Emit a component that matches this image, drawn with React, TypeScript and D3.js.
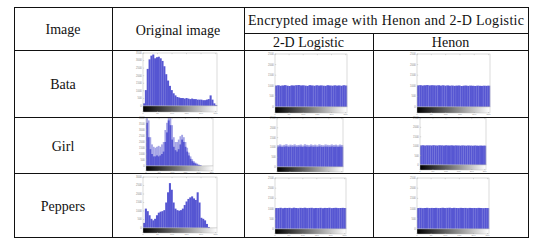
import React from "react";
import * as d3 from "d3";

const W = 545;
const H = 243;

// Table text
const headerTop = "Encrypted image with Henon and 2-D Logistic";
const colHeaders = ["Image", "Original image"];
const subHeaders = ["2-D Logistic", "Henon"];
const rowNames = ["Bata", "Girl", "Peppers"];

// Original histograms (counts per bin, 40 bins over 0..255)
const bataOrig = [175,1050,2450,3080,3325,3400,3150,3220,3255,3150,2975,2625,2100,1680,1330,1050,840,700,595,560,525,525,490,525,490,455,490,455,455,420,420,420,385,385,420,455,700,420,175,70];
const girlOrig = [3600,2400,1400,1000,800,800,880,800,880,1000,1200,2000,2800,3800,3400,2200,1600,1320,1200,1400,1800,2200,2000,1600,1200,880,600,400,280,200,120,80,40,0,0,0,0,0,0,0];
const girlOrigUpper = [4000,3800,2400,1800,1600,1520,1600,1680,1600,1800,2000,3000,3600,4000,4000,3400,2400,2000,2000,2200,2480,2600,2400,2000,1520,1120,800,560,400,280,200,120,80,0,0,0,0,0,0,0];
const peppersOrig = [300,1140,990,750,540,450,540,750,900,960,990,1050,1500,2100,2640,2250,1500,1140,1050,1020,1050,1140,1350,1560,1710,1800,1860,1740,1650,2100,1500,600,540,450,240,60,0,0,0,0];

// Encrypted histograms (32 bins)
const bataLog = [1010,1025,1000,1015,1030,1005,990,1020,1012,1028,1035,1018,1022,1008,995,1030,1016,1002,1024,1011,1019,1006,998,1027,1013,1004,1021,1009,1017,1001,1026,1014];
const bataHen = [1020,1030,1012,1025,1034,1018,1028,1022,1015,1026,1010,1024,1005,1019,1003,1012,998,1008,1015,990,1004,1011,996,1009,1002,993,1007,1000,995,1004,998,1006];
const girlLog = [1030,1045,1020,1038,1050,1025,1040,1032,1046,1028,1036,1042,1022,1048,1034,1026,1044,1030,1038,1024,1046,1033,1027,1041,1035,1029,1043,1031,1037,1025,1040,1033];
const girlLogUpper = [1110,1150,1100,1130,1160,1105,1140,1120,1155,1110,1125,1145,1100,1160,1130,1110,1150,1115,1140,1105,1155,1125,1110,1150,1130,1115,1150,1120,1140,1105,1145,1125];
const girlHen = [1040,1050,1035,1046,1044,1038,1052,1041,1036,1049,1043,1034,1047,1040,1038,1045,1033,1042,1037,1030,1041,1035,1028,1039,1032,1026,1036,1030,1024,1033,1027,1030];
const peppersLog = [1030,1025,1040,1018,1035,1028,1038,1022,1044,1030,1020,1036,1027,1042,1024,1033,1039,1021,1031,1026,1037,1019,1034,1029,1041,1023,1032,1038,1025,1030,1036,1028];
const peppersHen = [1028,1034,1022,1030,1038,1025,1033,1029,1036,1024,1031,1040,1027,1035,1042,1026,1038,1030,1024,1036,1029,1033,1021,1034,1027,1031,1025,1035,1028,1022,1030,1026];

const origTicks = [
  [0, 500, 1000, 1500, 2000, 2500, 3000, 3500],
  [0, 500, 1000, 1500, 2000, 2500, 3000, 3500, 4000],
  [0, 500, 1000, 1500, 2000, 2500, 3000],
];
const encTicks = [0, 500, 1000, 1500, 2000, 2500];
const xTickLabels = [0, 50, 100, 150, 200, 250];

// Layout
const colX = [14, 112, 244, 373, 528];
const rowY = [7, 50, 117, 173, 237];
const subY = 33;

type Panel = {
  x: number; y: number; w: number; h: number; cb: number;
  values: number[]; upper?: number[]; ticks: number[]; enc: boolean;
};

const panels: Panel[] = [
  { x: 143, y: 53, w: 74, h: 53, cb: 6, values: bataOrig, ticks: origTicks[0], enc: false },
  { x: 275, y: 54, w: 72, h: 53, cb: 6, values: bataLog, ticks: encTicks, enc: true },
  { x: 417, y: 54, w: 73, h: 53, cb: 6, values: bataHen, ticks: encTicks, enc: true },
  { x: 146, y: 118, w: 67, h: 48, cb: 5, values: girlOrig, upper: girlOrigUpper, ticks: origTicks[1], enc: false },
  { x: 277, y: 118, w: 66, h: 49, cb: 5, values: girlLog, upper: girlLogUpper, ticks: encTicks, enc: true },
  { x: 420, y: 118, w: 66, h: 47, cb: 5, values: girlHen, ticks: encTicks, enc: true },
  { x: 143, y: 177, w: 74, h: 51, cb: 5, values: peppersOrig, ticks: origTicks[2], enc: false },
  { x: 275, y: 178, w: 71, h: 51, cb: 5, values: peppersLog, ticks: encTicks, enc: true },
  { x: 417, y: 178, w: 72, h: 51, cb: 5, values: peppersHen, ticks: encTicks, enc: true },
];

const BLUE = "#5656d2";
const STRIPE = "#7c7cde";
const LIGHT = "#a4a4e6";

function Histogram({ p, idx }: { p: Panel; idx: number }) {
  const n = p.values.length;
  const yMax = p.ticks[p.ticks.length - 1];
  const xs = d3.scaleBand<number>().domain(d3.range(n)).range([p.x, p.x + p.w]);
  const ys = d3.scaleLinear().domain([0, yMax]).range([p.y + p.h, p.y]);
  const xv = d3.scaleLinear().domain([0, 255]).range([p.x, p.x + p.w]);
  const gid = `cb${idx}`;
  const bw = xs.bandwidth() + 0.2;
  return (
    <g>
      <defs>
        <linearGradient id={gid} x1="0" x2="1" y1="0" y2="0">
          <stop offset="0" stopColor="#000" />
          <stop offset="0.45" stopColor="#6e6e6e" />
          <stop offset="1" stopColor="#fff" />
        </linearGradient>
      </defs>
      <rect x={p.x} y={p.y} width={p.w} height={p.h} fill="#fff" />
      {p.upper &&
        p.upper.map((v, i) => (
          <rect key={"u" + i} x={xs(i)!} y={ys(v)} width={bw} height={ys(0) - ys(v)} fill={LIGHT} />
        ))}
      {p.values.map((v, i) => (
        <rect key={i} x={xs(i)!} y={ys(v)} width={bw} height={ys(0) - ys(v)} fill={BLUE} />
      ))}
      {p.enc &&
        p.values.map((v, i) =>
          i % 2 === 1 ? (
            <line key={"s" + i} x1={xs(i)!} x2={xs(i)!} y1={ys(v)} y2={ys(0)} stroke={STRIPE} strokeWidth={0.5} />
          ) : null
        )}
      <rect x={p.x} y={p.y} width={p.w} height={p.h} fill="none" stroke="#c4c4c4" strokeWidth={0.6} />
      {p.ticks.map((t) => (
        <g key={t}>
          <line x1={p.x} x2={p.x + 1.2} y1={ys(t)} y2={ys(t)} stroke="#aaa" strokeWidth={0.4} />
          <text x={p.x - 1.2} y={ys(t)} dy="0.35em" fontSize={2.6} fill="#888" textAnchor="end" fontFamily="Liberation Sans">
            {t}
          </text>
        </g>
      ))}
      {xTickLabels.map((t) => (
        <line key={"t" + t} x1={xv(t)} x2={xv(t)} y1={p.y} y2={p.y + 1.2} stroke="#aaa" strokeWidth={0.4} />
      ))}
      <rect x={p.x} y={p.y + p.h} width={p.w} height={p.cb} fill={`url(#${gid})`} />
      <rect x={p.x} y={p.y + p.h} width={p.w} height={p.cb} fill="none" stroke="#bbb" strokeWidth={0.4} />
      {xTickLabels.map((t) => (
        <g key={"x" + t}>
          <line x1={xv(t)} x2={xv(t)} y1={p.y + p.h + p.cb} y2={p.y + p.h + p.cb - 1} stroke="#999" strokeWidth={0.4} />
          <text x={xv(t)} y={p.y + p.h + p.cb + 2.4} fontSize={2.4} fill="#999" textAnchor="middle" fontFamily="Liberation Sans">
            {t}
          </text>
        </g>
      ))}
    </g>
  );
}

export default function App() {
  const font = "'Liberation Serif', 'Times New Roman', serif";
  const fs = 14;
  return (
    <svg width={W} height={H} style={{ position: "absolute", left: 0, top: 0, background: "#fff" }}>
      <rect x={0} y={0} width={W} height={H} fill="#fff" />
      {panels.map((p, i) => (
        <Histogram key={i} p={p} idx={i} />
      ))}
      {/* table lines */}
      <g stroke="#111" strokeWidth={1} shapeRendering="crispEdges">
        <rect x={colX[0]} y={rowY[0]} width={colX[4] - colX[0]} height={rowY[4] - rowY[0]} fill="none" />
        {colX.slice(1, 4).map((x, i) => (
          <line key={"c" + i} x1={x} x2={x} y1={i === 2 ? subY : rowY[0]} y2={rowY[4]} />
        ))}
        {rowY.slice(1, 4).map((y, i) => (
          <line key={"r" + i} x1={colX[0]} x2={colX[4]} y1={y} y2={y} />
        ))}
        <line x1={colX[2]} x2={colX[4]} y1={subY} y2={subY} />
      </g>
      <g fontFamily={font} fontSize={fs} fill="#111" textAnchor="middle">
        <text x={(colX[0] + colX[1]) / 2} y={(rowY[0] + rowY[1]) / 2 + 1} dy="0.35em">{colHeaders[0]}</text>
        <text x={(colX[1] + colX[2]) / 2} y={(rowY[0] + rowY[1]) / 2 + 2} dy="0.35em">{colHeaders[1]}</text>
        <text x={(colX[2] + colX[4]) / 2} y={(rowY[0] + subY) / 2 + 0.5} dy="0.35em" textLength={276} lengthAdjust="spacing">{headerTop}</text>
        <text x={(colX[2] + colX[3]) / 2} y={(subY + rowY[1]) / 2 + 0.5} dy="0.35em">{subHeaders[0]}</text>
        <text x={(colX[3] + colX[4]) / 2} y={(subY + rowY[1]) / 2 + 0.5} dy="0.35em">{subHeaders[1]}</text>
        {rowNames.map((r, i) => (
          <text key={r} x={(colX[0] + colX[1]) / 2} y={(rowY[i + 1] + rowY[i + 2]) / 2 + 1} dy="0.35em">{r}</text>
        ))}
      </g>
    </svg>
  );
}
